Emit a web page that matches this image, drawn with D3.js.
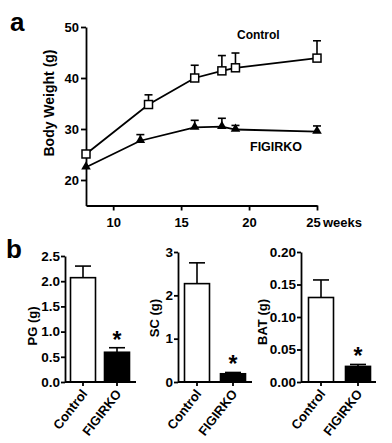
<!DOCTYPE html>
<html>
<head>
<meta charset="utf-8">
<script src="https://cdn.jsdelivr.net/npm/d3@7"></script>
<style>
  body { margin: 0; background: #fff; }
  svg text { font-family: "Liberation Sans", Arial, sans-serif; font-weight: bold; fill: #000; }
</style>
</head>
<body>
<div id="chart"></div>
<script>
// ---- data: panel a, body weight over time ----
var weeksControl = [8, 12.6, 16, 18, 19, 25];
var weeksKO = [8, 12, 16, 18, 19, 25];
var controlMean = [25.1, 34.8, 40.0, 41.4, 42.0, 43.9];
var controlErr = [0, 1.9, 2.5, 3.0, 2.9, 3.4];
var koMean = [22.5, 27.7, 30.3, 30.45, 29.9, 29.5];
var koErr = [0, 1.2, 1.4, 1.65, 0.8, 1.1];
var weekTicks = [10, 15, 20, 25];
var weightTicks = [20, 30, 40, 50];

// ---- data: panel b, fat depots ----
var groups = ["Control", "FIGIRKO"];
var pgMean = [2.07, 0.59], pgErr = [0.23, 0.09];
var scMean = [2.27, 0.19], scErr = [0.48, 0.03];
var batMean = [0.130, 0.024], batErr = [0.027, 0.003];
var pgTicks = [0, 0.5, 1.0, 1.5, 2.0, 2.5];
var scTicks = [0, 1, 2, 3];
var batTicks = [0, 0.05, 0.10, 0.15, 0.20];

var width = 392, height = 443;

var svg = d3.select("#chart").append("svg")
  .attr("width", width)
  .attr("height", height);

svg.append("rect").attr("width", width).attr("height", height).attr("fill", "#fff");

// ----------------------------------------------------
// panel a : line chart
// ----------------------------------------------------
var x = d3.scaleLinear().domain([8, 25]).range([86, 317]);
var y = d3.scaleLinear().domain([15, 50]).range([205.5, 27]);

var gTop = svg.append("g");

gTop.append("g")
  .attr("transform", "translate(" + x.range()[0] + ",0)")
  .call(d3.axisLeft(y).tickValues(weightTicks).tickSize(5).tickSizeOuter(0).tickPadding(2))
  .call(g => g.selectAll("text").style("font-size", "13px"))
  .call(g => g.selectAll("path,line").attr("stroke-width", 1.8));

gTop.append("g")
  .attr("transform", "translate(0," + y.range()[0] + ")")
  .call(d3.axisBottom(x).tickValues(weekTicks).tickSize(5).tickSizeOuter(0).tickPadding(7))
  .call(g => g.selectAll("text").style("font-size", "13px"))
  .call(g => g.selectAll("path,line").attr("stroke-width", 1.8))
  .call(g => g.selectAll(".tick").filter(d => d === 25).select("text").attr("dx", -4));

gTop.append("text")
  .attr("x", 323)
  .attr("y", 227)
  .style("font-size", "13px")
  .text("weeks");

gTop.append("text")
  .attr("transform", "translate(54,103) rotate(-90)")
  .attr("text-anchor", "middle")
  .style("font-size", "14px")
  .text("Body Weight (g)");

gTop.append("text")
  .attr("x", 10).attr("y", 31)
  .style("font-size", "26px")
  .text("a");

function series(weeks, mean, err) {
  return weeks.map(function (w, i) {
    return { w: w, m: mean[i], e: err[i] };
  });
}
var ctrl = series(weeksControl, controlMean, controlErr);
var ko = series(weeksKO, koMean, koErr);

var line = d3.line().x(d => x(d.w)).y(d => y(d.m));

[ctrl, ko].forEach(function (s) {
  gTop.append("path")
    .datum(s)
    .attr("fill", "none")
    .attr("stroke", "#000")
    .attr("stroke-width", 1.8)
    .attr("d", line);

  // upper error bars only
  var eb = gTop.append("g").selectAll("g")
    .data(s.filter(d => d.e > 0))
    .join("g");
  eb.append("line")
    .attr("x1", d => x(d.w)).attr("x2", d => x(d.w))
    .attr("y1", d => y(d.m)).attr("y2", d => y(d.m + d.e))
    .attr("stroke", "#000").attr("stroke-width", 1.6);
  eb.append("line")
    .attr("x1", d => x(d.w) - 4).attr("x2", d => x(d.w) + 4)
    .attr("y1", d => y(d.m + d.e)).attr("y2", d => y(d.m + d.e))
    .attr("stroke", "#000").attr("stroke-width", 1.6);
});

gTop.append("g").selectAll("rect")
  .data(ctrl)
  .join("rect")
  .attr("x", d => x(d.w) - 4)
  .attr("y", d => y(d.m) - 4)
  .attr("width", 8)
  .attr("height", 8)
  .attr("fill", "#fff")
  .attr("stroke", "#000")
  .attr("stroke-width", 1.5);

gTop.append("g").selectAll("path")
  .data(ko)
  .join("path")
  .attr("transform", d => "translate(" + x(d.w) + "," + (y(d.m) - 0.5) + ")")
  .attr("d", d3.symbol(d3.symbolTriangle, 40))
  .attr("fill", "#000");

gTop.append("text").attr("x", 237).attr("y", 39).style("font-size", "12px").text("Control");
gTop.append("text").attr("x", 250).attr("y", 151).style("font-size", "12.5px").text("FIGIRKO");

// ----------------------------------------------------
// panel b : three bar charts
// ----------------------------------------------------
svg.append("text")
  .attr("x", 6).attr("y", 258)
  .style("font-size", "26px")
  .text("b");

var base = 382;
var panels = [
  { title: "PG (g)", mean: pgMean, err: pgErr, ticks: pgTicks, fmt: d3.format(".1f"),
    axisX: 65, axisEnd: 136, c0: 83, c1: 117, top: 256, titleX: 37, titleY: 326 },
  { title: "SC (g)", mean: scMean, err: scErr, ticks: scTicks, fmt: d3.format("d"),
    axisX: 178, axisEnd: 252, c0: 197, c1: 233, top: 252, titleX: 159, titleY: 318 },
  { title: "BAT (g)", mean: batMean, err: batErr, ticks: batTicks, fmt: d3.format(".2f"),
    axisX: 301, axisEnd: 376, c0: 321, c1: 358, top: 252, titleX: 267, titleY: 322 }
];
var barW = 25;

panels.forEach(function (p) {
  var g = svg.append("g");
  var yb = d3.scaleLinear().domain([0, d3.max(p.ticks)]).range([base, p.top]);
  var xb = d3.scalePoint().domain(groups).range([p.c0, p.c1]);

  var data = groups.map((k, i) => ({ k: k, m: p.mean[i], e: p.err[i], i: i }));

  // error bars (upper)
  g.selectAll(".eb")
    .data(data)
    .join("line")
    .attr("x1", d => xb(d.k)).attr("x2", d => xb(d.k))
    .attr("y1", d => yb(d.m)).attr("y2", d => yb(d.m + d.e))
    .attr("stroke", "#000").attr("stroke-width", 1.6);
  g.selectAll(".cap")
    .data(data)
    .join("line")
    .attr("x1", d => xb(d.k) - 8).attr("x2", d => xb(d.k) + 8)
    .attr("y1", d => yb(d.m + d.e)).attr("y2", d => yb(d.m + d.e))
    .attr("stroke", "#000").attr("stroke-width", 1.6);

  g.selectAll(".bar")
    .data(data)
    .join("rect")
    .attr("x", d => xb(d.k) - barW / 2)
    .attr("y", d => yb(d.m))
    .attr("width", barW)
    .attr("height", d => base - yb(d.m))
    .attr("fill", d => d.i === 0 ? "#fff" : "#000")
    .attr("stroke", "#000")
    .attr("stroke-width", 1.6);

  // y axis
  g.append("g")
    .attr("transform", "translate(" + p.axisX + ",0)")
    .call(d3.axisLeft(yb).tickValues(p.ticks).tickFormat(p.fmt).tickSize(4).tickSizeOuter(0).tickPadding(1))
    .call(a => a.selectAll("text").style("font-size", "13.5px"))
    .call(a => a.selectAll("path,line").attr("stroke-width", 1.8));

  // x axis
  g.append("line")
    .attr("x1", p.axisX).attr("x2", p.axisEnd)
    .attr("y1", base).attr("y2", base)
    .attr("stroke", "#000").attr("stroke-width", 1.8);
  g.selectAll(".xt")
    .data(groups)
    .join("line")
    .attr("x1", d => xb(d)).attr("x2", d => xb(d))
    .attr("y1", base).attr("y2", base + 4)
    .attr("stroke", "#000").attr("stroke-width", 1.8);
  g.selectAll(".xl")
    .data(groups)
    .join("text")
    .attr("transform", d => "translate(" + (xb(d) + 5) + "," + (base + 12) + ") rotate(-52)")
    .attr("text-anchor", "end")
    .style("font-size", "13px")
    .text(d => d);

  // significance star
  g.append("text")
    .attr("x", xb(groups[1]))
    .attr("y", yb(p.mean[1] + p.err[1]))
    .attr("text-anchor", "middle")
    .style("font-size", "23px")
    .text("*");

  g.append("text")
    .attr("transform", "translate(" + p.titleX + "," + p.titleY + ") rotate(-90)")
    .attr("text-anchor", "middle")
    .style("font-size", "13px")
    .text(p.title);
});
</script>
</body>
</html>
